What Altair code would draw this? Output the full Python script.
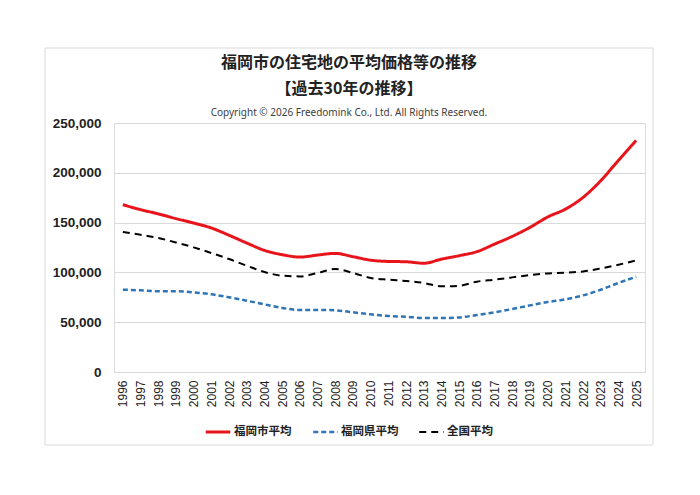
import altair as alt
import pandas as pd

YEARS = ["1996", "1997", "1998", "1999", "2000", "2001", "2002", "2003", "2004", "2005",
         "2006", "2007", "2008", "2009", "2010", "2011", "2012", "2013", "2014", "2015",
         "2016", "2017", "2018", "2019", "2020", "2021", "2022", "2023", "2024", "2025"]

SERIES = ["福岡市平均", "福岡県平均", "全国平均"]

CITY = [168000, 163000, 158800, 154000, 149600, 144600, 137300, 129500, 122100, 117800,
        115400, 117400, 119100, 115800, 112300, 111000, 110700, 109200, 113300, 116800,
        120800, 128400, 136200, 145200, 155600, 163500, 175300, 192100, 212500, 232500]

PREF = [82600, 82000, 81000, 81000, 80000, 78000, 75000, 71600, 67900, 64300,
        62300, 62300, 61900, 59900, 57900, 56200, 55500, 54200, 54200, 54800,
        57200, 59900, 63200, 66900, 70300, 72900, 76900, 82600, 89400, 95700]

NATION = [140600, 137800, 134500, 130100, 125100, 119500, 113400, 106700, 100400, 96700,
          96000, 99400, 103400, 99400, 94400, 92700, 91400, 89400, 86000, 86600,
          90700, 92700, 95000, 97400, 99000, 99700, 101000, 104000, 107700, 112000]

Y_TICKS = [0, 50000, 100000, 150000, 200000, 250000]

TITLE = "福岡市の住宅地の平均価格等の推移"
SUBTITLE = "【過去30年の推移】"
COPYRIGHT = "Copyright © 2026 Freedomink Co., Ltd. All Rights Reserved."

rows = []
for name, vals in zip(SERIES, [CITY, PREF, NATION]):
    for yr, v in zip(YEARS, vals):
        rows.append({"year": yr, "series": name, "value": v})
df = pd.DataFrame(rows)

JP = "Noto Sans CJK JP"
LAT = "Liberation Sans"

legend = alt.Legend(
    orient="none", legendX=90, legendY=295, direction="horizontal", title=None,
    symbolType="stroke", symbolSize=600, labelFontSize=11.5, labelFont=JP,
    labelFontWeight="bold", labelColor="#222222", columnPadding=16, labelOffset=2,
)

lines = alt.Chart(df).mark_line(interpolate="monotone").encode(
    x=alt.X("year:O", sort=YEARS,
            scale=alt.Scale(type="point", padding=0.5),
            axis=alt.Axis(title=None, labelAngle=270, labelFont=LAT, labelFontSize=12,
                          labelColor="#222222", labelPadding=8, ticks=False,
                          domainColor="#d9d9d9", grid=False)),
    y=alt.Y("value:Q", scale=alt.Scale(domain=[0, 250000]),
            axis=alt.Axis(title=None, values=Y_TICKS, format=",.0f", labelFont=LAT,
                          labelFontSize=13.5, labelFontWeight="bold", labelColor="#222222",
                          labelPadding=13, ticks=False, domain=False,
                          gridColor="#d9d9d9", gridWidth=1)),
    color=alt.Color("series:N", sort=SERIES,
                    scale=alt.Scale(domain=SERIES, range=["#e8141b", "#2e75b6", "#000000"]),
                    legend=legend),
    strokeDash=alt.StrokeDash("series:N", sort=SERIES,
                              scale=alt.Scale(domain=SERIES, range=[[1, 0], [5, 3], [7, 5]]),
                              legend=legend),
    strokeWidth=alt.StrokeWidth("series:N", sort=SERIES,
                                scale=alt.Scale(domain=SERIES, range=[3, 2, 2]),
                                legend=legend),
)

border = alt.Chart(pd.DataFrame({"k": [0]})).mark_rect(
    filled=False, stroke="#d9d9d9", strokeWidth=1
).encode(x=alt.value(-69), x2=alt.value(539), y=alt.value(-75), y2=alt.value(322))

t1 = alt.Chart(pd.DataFrame({"t": [TITLE]})).mark_text(
    font=JP, fontSize=16, fontWeight="bold", color="#222222", baseline="middle", align="center"
).encode(text="t:N", x=alt.value(235), y=alt.value(-60))
t2 = alt.Chart(pd.DataFrame({"t": [SUBTITLE]})).mark_text(
    font=JP, fontSize=16, fontWeight="bold", color="#222222", baseline="middle", align="center"
).encode(text="t:N", x=alt.value(235), y=alt.value(-34))
t3 = alt.Chart(pd.DataFrame({"t": [COPYRIGHT]})).mark_text(
    font="Noto Sans", fontSize=10, color="#404040", baseline="middle", align="center"
).encode(text="t:N", x=alt.value(235), y=alt.value(-10))

chart = alt.layer(border, lines, t1, t2, t3).properties(
    width=531, height=249,
    autosize=alt.AutoSizeParams(type="none"),
    padding={"left": 106, "top": 115, "right": 40, "bottom": 120},
).configure_view(stroke=None).configure(background="white")

chart.save("out.html", embed_options={"renderer": "svg", "actions": False})
